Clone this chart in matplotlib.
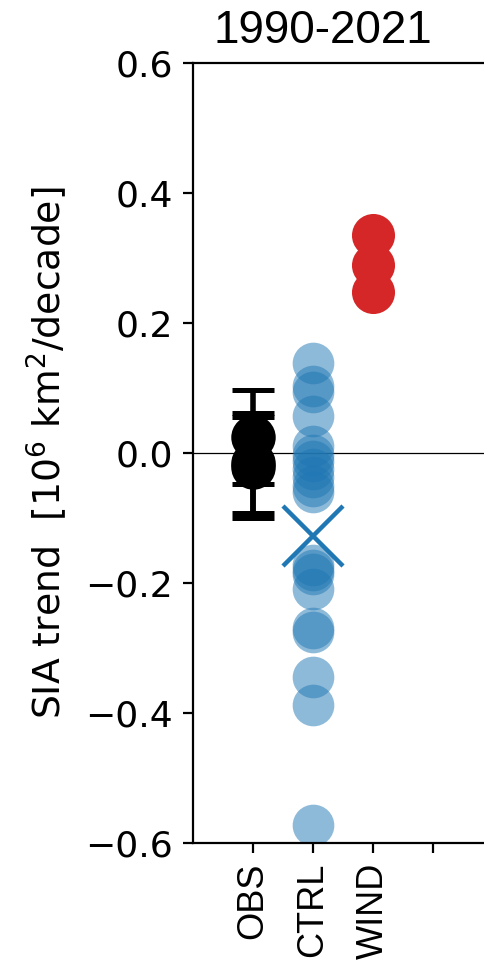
import numpy as np
import matplotlib
matplotlib.use("Agg")
import matplotlib.pyplot as plt

# Sea-ice area trends, 1990-2021 [10^6 km^2 / decade]
categories = ["OBS", "CTRL", "WIND", ""]

obs_trend = [0.025, -0.016, -0.022]
obs_err = [0.072, 0.077, 0.078]

ctrl_trend = [0.138, 0.103, 0.094, 0.057, 0.011, -0.003, -0.012, -0.025,
              -0.037, -0.051, -0.060, -0.172, -0.180, -0.186, -0.210,
              -0.270, -0.275, -0.345, -0.387, -0.573]
ctrl_mean = -0.128

wind_trend = [0.335, 0.289, 0.248]

yticks = [-0.6, -0.4, -0.2, 0.0, 0.2, 0.4, 0.6]

W, H, DPI = 485, 971, 200
fig = plt.figure(figsize=(W / DPI, H / DPI), dpi=DPI)
ax = fig.add_axes([193 / W, 1 - 843 / H, 300 / W, 780 / H])

helv = ["Liberation Sans", "DejaVu Sans"]

ax.axhline(0, color="black", lw=0.45, zorder=1)

x_obs = np.zeros(len(obs_trend))
ax.errorbar(x_obs, obs_trend, yerr=obs_err, fmt="o", color="black",
            ms=15, elinewidth=2.0, capsize=7.7, capthick=1.8, zorder=3)

x_ctrl = np.full(len(ctrl_trend), 1.0)
ax.plot(x_ctrl, ctrl_trend, "o", color="tab:blue", alpha=0.5, ms=15,
        mew=0, zorder=2)
ax.plot([1], [ctrl_mean], "x", color="tab:blue", ms=21.5, mew=1.6, zorder=4)

x_wind = np.full(len(wind_trend), 2.0)
ax.plot(x_wind, wind_trend, "o", color="tab:red", ms=15.5, mew=0, zorder=2)

ax.set_xlim(-1, 4)
ax.set_ylim(-0.6, 0.6)
ax.set_yticks(yticks)
ax.set_yticklabels([f"{v:.1f}".replace("-", "\u2212") for v in yticks],
                   fontsize=13)
ax.set_xticks(range(len(categories)))
ax.set_xticklabels(categories, rotation=90, fontsize=13, family=helv)
ax.tick_params(length=3.6, width=0.8)

ax.spines["right"].set_visible(False)

ax.set_ylabel("SIA trend  [10$^6$ km$^2$/decade]", fontsize=13.6, labelpad=6)
fig.text(323 / W, 1 - 43 / H, "1990-2021", ha="center", va="baseline",
         fontsize=16.5, family=helv)

fig.savefig("out.png", dpi=DPI)
